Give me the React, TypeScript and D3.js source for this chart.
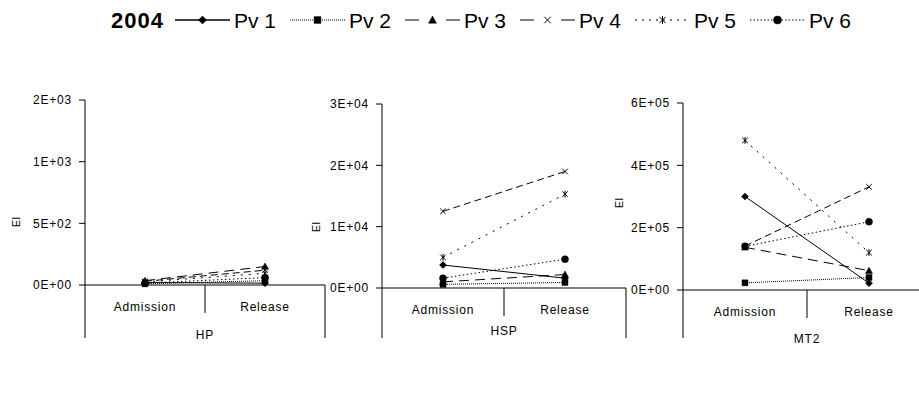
import * as d3 from "d3";

const W = 919;
const H = 396;

const seriesNames = ["Pv 1", "Pv 2", "Pv 3", "Pv 4", "Pv 5", "Pv 6"];
const categories = ["Admission", "Release"];
const legendTitle = "2004";
const axisTitle = "EI";

// values per series: [Pv1..Pv6]
const hpAdmission = [20, 10, 35, 30, 25, 15];
const hpRelease = [15, 35, 150, 120, 95, 60];
const hspAdmission = [3750, 600, 1000, 12500, 5000, 1600];
const hspRelease = [1600, 900, 2200, 19000, 15300, 4700];
const mt2Admission = [300000, 23000, 137000, 141000, 480000, 140000];
const mt2Release = [22000, 40000, 62000, 331000, 120000, 219000];

const hpTicks = [0, 500, 1000, 1500];
const hspTicks = [0, 10000, 20000, 30000];
const mt2Ticks = [0, 200000, 400000, 600000];

const markers = ["diamond", "square", "triangle", "x", "asterisk", "circle"];
const dashes = ["none", "1,1", "10,6", "7,4", "2,6", "1.5,2.5"];
const legendDashes = ["none", "1,1", "14,27", "14,27", "2,5", "1.5,2"];

const FONT = "Arial, 'Liberation Sans', sans-serif";

// Excel style 0E+00
const sci = (v: number) => {
  const [m, e] = v.toExponential(0).split("e");
  const sign = e[0] === "-" ? "-" : "+";
  const digits = e.replace(/[+-]/, "").padStart(2, "0");
  return `${m}E${sign}${digits}`;
};

const markerPath = (kind: string, s: number) => {
  switch (kind) {
    case "diamond":
      return `M0,${-s}L${s},0L0,${s}L${-s},0Z`;
    case "square":
      return `M${-s * 0.85},${-s * 0.85}h${s * 1.7}v${s * 1.7}h${-s * 1.7}Z`;
    case "triangle":
      return `M0,${-s}L${s},${s * 0.8}L${-s},${s * 0.8}Z`;
    case "x":
      return `M${-s * 0.8},${-s * 0.8}L${s * 0.8},${s * 0.8}M${-s * 0.8},${s * 0.8}L${s * 0.8},${-s * 0.8}`;
    case "asterisk":
      return `M${-s * 0.8},${-s * 0.8}L${s * 0.8},${s * 0.8}M${-s * 0.8},${s * 0.8}L${s * 0.8},${-s * 0.8}M0,${-s}L0,${s}`;
    default:
      return d3.symbol(d3.symbolCircle, Math.PI * s * s)() || "";
  }
};

const Marker = ({ kind, x, y, s }: { kind: string; x: number; y: number; s: number }) => {
  const stroked = kind === "x" || kind === "asterisk";
  return (
    <path
      d={markerPath(kind, s)}
      transform={`translate(${x},${y})`}
      fill={stroked ? "none" : "#000"}
      stroke="#000"
      strokeWidth={stroked ? 1 : 0.5}
    />
  );
};

const panels = [
  { name: "HP", adm: hpAdmission, rel: hpRelease, ticks: hpTicks, x0: 85, band: 120, top: 100, zero: 285, eiX: 20, eiY: 222, labelDy: 50 },
  { name: "HSP", adm: hspAdmission, rel: hspRelease, ticks: hspTicks, x0: 382, band: 122, top: 104, zero: 288, eiX: 320, eiY: 227, labelDy: 43 },
  { name: "MT2", adm: mt2Admission, rel: mt2Release, ticks: mt2Ticks, x0: 683, band: 124, top: 103, zero: 290, eiX: 623, eiY: 203, labelDy: 49 },
];

const Panel = ({ p }: { p: (typeof panels)[number] }) => {
  const max = p.ticks[p.ticks.length - 1];
  const y = d3.scaleLinear().domain([0, max]).range([p.zero, p.top]);
  const x = d3
    .scaleBand<string>()
    .domain(categories)
    .range([p.x0, p.x0 + p.band * 2]);
  const bottom = 338;
  const line = d3
    .line<[string, number]>()
    .x((d) => (x(d[0]) as number) + x.bandwidth() / 2)
    .y((d) => y(d[1]));
  const right = p.x0 + p.band * 2;
  return (
    <g>
      {/* y axis */}
      <line x1={p.x0} x2={p.x0} y1={p.top} y2={bottom} stroke="#000" />
      {p.ticks.map((t) => (
        <g key={t}>
          <line x1={p.x0 - 6} x2={p.x0} y1={y(t)} y2={y(t)} stroke="#000" />
          <text
            x={p.x0 - 13}
            y={y(t)}
            dy="0.35em"
            textAnchor="end"
            fontSize={12}
            letterSpacing={0.8}
            fontFamily={FONT}
          >
            {sci(t)}
          </text>
        </g>
      ))}
      <text
        transform={`translate(${p.eiX},${p.eiY}) rotate(-90)`}
        textAnchor="middle"
        fontSize={11}
        fontFamily={FONT}
      >
        {axisTitle}
      </text>
      {/* category axis */}
      <line x1={p.x0} x2={right} y1={p.zero} y2={p.zero} stroke="#000" />
      <line x1={p.x0 + p.band} x2={p.x0 + p.band} y1={p.zero} y2={p.zero + 28} stroke="#000" />
      <line x1={right} x2={right} y1={p.zero} y2={bottom} stroke="#000" />
      {categories.map((c) => (
        <text
          key={c}
          x={(x(c) as number) + x.bandwidth() / 2}
          y={p.zero + 22}
          dy="0.35em"
          textAnchor="middle"
          fontSize={12}
          letterSpacing={0.8}
          fontFamily={FONT}
        >
          {c}
        </text>
      ))}
      <text
        x={p.x0 + p.band}
        y={p.zero + p.labelDy}
        dy="0.35em"
        textAnchor="middle"
        fontSize={12}
        letterSpacing={0.8}
        fontFamily={FONT}
      >
        {p.name}
      </text>
      {/* series */}
      {seriesNames.map((s, i) => {
        const pts: [string, number][] = [
          [categories[0], p.adm[i]],
          [categories[1], p.rel[i]],
        ];
        return (
          <g key={s}>
            <path
              d={line(pts) || ""}
              fill="none"
              stroke="#000"
              strokeWidth={1}
              strokeDasharray={dashes[i]}
            />
            {pts.map((d) => (
              <Marker
                key={d[0]}
                kind={markers[i]}
                x={(x(d[0]) as number) + x.bandwidth() / 2}
                y={y(d[1])}
                s={3.5}
              />
            ))}
          </g>
        );
      })}
    </g>
  );
};

const legendStart = 175;
const legendStep = 115;
const sampleLen = 55;

const App = () => {
  return (
    <svg width={W} height={H} style={{ display: "block", position: "absolute", left: 0, top: 0 }}>
      <rect width={W} height={H} fill="#fff" />
      <text x={111} y={28} fontSize={22} fontWeight="bold" letterSpacing={1} fontFamily={FONT}>
        {legendTitle}
      </text>
      {seriesNames.map((s, i) => {
        const x0 = legendStart + i * legendStep;
        return (
          <g key={s}>
            <line
              x1={x0}
              x2={x0 + sampleLen}
              y1={20}
              y2={20}
              stroke="#000"
              strokeWidth={i === 0 ? 1.5 : 1}
              strokeDasharray={legendDashes[i]}
            />
            <Marker kind={markers[i]} x={x0 + sampleLen / 2} y={20} s={4} />
            <text x={x0 + sampleLen + 4} y={28} fontSize={21} fontFamily={FONT}>
              {s}
            </text>
          </g>
        );
      })}
      {panels.map((p) => (
        <Panel key={p.name} p={p} />
      ))}
    </svg>
  );
};

export default App;
